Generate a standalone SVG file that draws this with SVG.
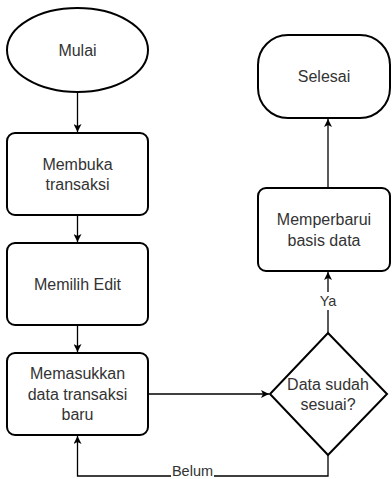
<svg xmlns="http://www.w3.org/2000/svg" width="392" height="479" viewBox="0 0 392 479">
<defs>
<marker id="ah" viewBox="0 0 10 10" refX="10" refY="5" markerWidth="8" markerHeight="8" markerUnits="userSpaceOnUse" orient="auto">
<path d="M0,0 L10,5 L0,10 L2.5,5 Z" fill="#000"/>
</marker>
</defs>
<style>
.n{fill:#fff;stroke:#000;stroke-width:2}
.t{font-family:"Liberation Sans",Arial,sans-serif;font-size:16px;fill:#333;text-anchor:middle;dominant-baseline:central}
.l{font-family:"Liberation Sans",Arial,sans-serif;font-size:14.5px;fill:#333;text-anchor:middle;dominant-baseline:central}
.c{fill:none;stroke:#000;stroke-width:1.3}
</style>
<rect width="392" height="479" fill="#fff"/>
<g id="connectors">
<line class="c" x1="77.5" y1="92" x2="77.5" y2="132" marker-end="url(#ah)"/>
<line class="c" x1="77.5" y1="215" x2="77.5" y2="242" marker-end="url(#ah)"/>
<line class="c" x1="77.5" y1="325" x2="77.5" y2="352" marker-end="url(#ah)"/>
<line class="c" x1="148" y1="394" x2="269" y2="394" marker-end="url(#ah)"/>
<line class="c" x1="328" y1="333" x2="328" y2="272" marker-end="url(#ah)"/>
<line class="c" x1="328" y1="188" x2="328" y2="119" marker-end="url(#ah)"/>
<polyline class="c" points="328,455 328,476 77.5,476 77.5,436" marker-end="url(#ah)"/>
<rect x="318" y="292" width="20" height="18" fill="#fff"/>
<text class="l" x="328" y="301">Ya</text>
<rect x="171" y="465" width="43" height="14" fill="#fff"/>
<text class="l" x="192.5" y="471">Belum</text>
</g>
<g id="mulai">
<ellipse class="n" cx="77.5" cy="50" rx="70.5" ry="42"/>
<text class="t" x="77.5" y="50">Mulai</text>
</g>
<g id="membuka">
<rect class="n" x="7" y="133" width="141" height="82" rx="8"/>
<text class="t" x="77.5" y="164.5">Membuka</text>
<text class="t" x="77.5" y="184.5">transaksi</text>
</g>
<g id="memilih">
<rect class="n" x="7" y="243" width="141" height="82" rx="8"/>
<text class="t" x="77.5" y="284">Memilih Edit</text>
</g>
<g id="memasukkan">
<rect class="n" x="7" y="353" width="141" height="82" rx="8"/>
<text class="t" x="77.5" y="373.5">Memasukkan</text>
<text class="t" x="77.5" y="394">data transaksi</text>
<text class="t" x="77.5" y="414.5">baru</text>
</g>
<g id="keputusan">
<polygon class="n" points="328,333 387,394 328,455 270,394"/>
<text class="t" x="328" y="384">Data sudah</text>
<text class="t" x="328" y="404">sesuai?</text>
</g>
<g id="memperbarui">
<rect class="n" x="258" y="188" width="132" height="83" rx="8"/>
<text class="t" x="324" y="219">Memperbarui</text>
<text class="t" x="324" y="240">basis data</text>
</g>
<g id="selesai">
<rect class="n" x="258" y="35" width="132" height="83" rx="30" ry="30"/>
<text class="t" x="324" y="76.5">Selesai</text>
</g>
</svg>
